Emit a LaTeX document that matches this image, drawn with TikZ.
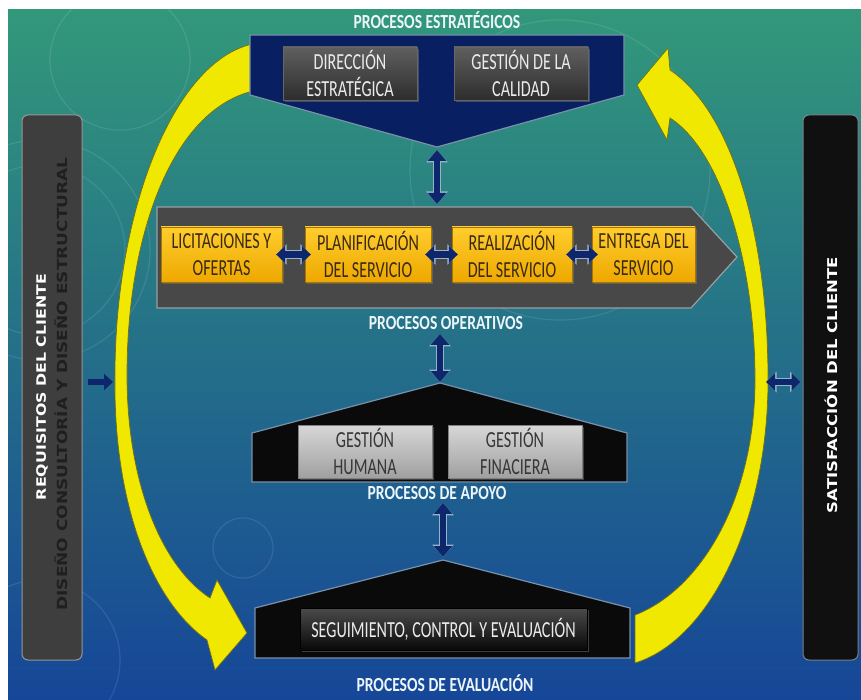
\documentclass[tikz,border=0pt]{standalone}
\usepackage{fontspec}
\usepackage{graphicx}
\setmainfont{Carlito}
\newfontfamily\cond[FakeStretch=0.78]{Carlito}
\newfontfamily\condb[FakeStretch=0.70]{Carlito}
\newfontfamily\side{DejaVu Sans}
\usetikzlibrary{arrows.meta,shadows}

\definecolor{bgtop}{RGB}{50,152,122}
\definecolor{bgmid}{RGB}{30,118,140}
\definecolor{bgbot}{RGB}{22,70,152}
\definecolor{navy}{RGB}{8,32,98}
\definecolor{arrownavy}{RGB}{14,38,108}
\definecolor{halo}{RGB}{150,180,200}
\definecolor{opgray}{RGB}{72,72,72}
\definecolor{opedge}{RGB}{150,160,165}
\definecolor{shapeedge}{RGB}{120,145,170}
\definecolor{dkT}{RGB}{95,95,95}
\definecolor{dkB}{RGB}{45,45,45}
\definecolor{gdT}{RGB}{255,205,45}
\definecolor{gdB}{RGB}{238,168,0}
\definecolor{gdtext}{RGB}{58,42,18}
\definecolor{gyT}{RGB}{215,215,215}
\definecolor{gyB}{RGB}{160,160,160}
\definecolor{gytext}{RGB}{55,55,55}
\definecolor{evT}{RGB}{75,75,75}
\definecolor{evB}{RGB}{8,8,8}
\definecolor{headc}{RGB}{235,245,250}
\definecolor{ylw}{RGB}{240,232,0}
\definecolor{ylwedge}{RGB}{110,110,30}
\definecolor{panelL}{RGB}{62,62,62}
\definecolor{panelLedge}{RGB}{150,150,150}
\definecolor{panelR}{RGB}{16,16,16}
\definecolor{panelRedge}{RGB}{120,130,140}

\tikzset{
  boxbase/.style={minimum height=53pt, inner sep=0pt, align=center,
    font=\condb\fontsize{23}{27}\selectfont,
    drop shadow={shadow xshift=2pt, shadow yshift=-2pt, opacity=.45}},
  darkbox/.style={boxbase, top color=dkT, bottom color=dkB, draw=black!60, text=white!92!black},
  goldbox/.style={boxbase, minimum height=55pt, top color=gdT, bottom color=gdB, draw=gdB!70!black, text=gdtext},
  greybox/.style={boxbase, top color=gyT, bottom color=gyB, draw=gray, text=gytext},
  evalbox/.style={boxbase, minimum height=42pt, top color=evT, bottom color=evB, draw=black, text=white!92!black},
  heading/.style={text=headc, font=\cond\bfseries\fontsize{20}{22}\selectfont, inner sep=0pt},
  shapestyle/.style={draw=shapeedge, line width=1.2pt, line join=miter},
  yarrow/.style={fill=ylw, draw=ylwedge, line width=0.7pt},
  biarrow/.style={draw=arrownavy, line width=6.5pt,
    {Triangle[width=18pt,length=11pt]}-{Triangle[width=18pt,length=11pt]},
    preaction={draw=halo, line width=8.5pt,
      {Triangle[width=21pt,length=12.5pt]}-{Triangle[width=21pt,length=12.5pt]}}},
  harrow/.style={draw=arrownavy, line width=6.5pt,
    {Triangle[width=17pt,length=9pt]}-{Triangle[width=17pt,length=9pt]},
    preaction={draw=halo, line width=8.5pt,
      {Triangle[width=20pt,length=10.5pt]}-{Triangle[width=20pt,length=10.5pt]}}},
  rarrow/.style={draw=arrownavy, line width=6.5pt, -{Triangle[width=16pt,length=9pt]}},
  leftpanel/.style={fill=panelL, draw=panelLedge, line width=1pt, rounded corners=6pt, inner sep=0pt},
  rightpanel/.style={fill=panelR, draw=panelRedge, line width=1pt, rounded corners=6pt, inner sep=0pt},
  sidetext/.style={rotate=90, inner sep=0pt}
}

\begin{document}
\begin{tikzpicture}[x=1pt,y=-1pt]
\useasboundingbox (0,0) rectangle (861,700);
\fill[white] (0,0) rectangle (861,700);
\shade[top color=bgtop, middle color=bgmid, bottom color=bgbot] (8,10) rectangle (861,700);

% faint decorative rings
\begin{scope}
\clip (8,10) rectangle (861,700);
\begin{scope}[draw=white, opacity=0.1, line width=1.2pt]
\draw (40,250) circle[radius=85];
\draw (40,250) circle[radius=110];
\draw (40,660) circle[radius=80];
\draw (243,548) circle[radius=30];
\draw (560,170) circle[radius=150];
\draw (120,60) circle[radius=70];
\end{scope}
\end{scope}

% yellow cycle arrows
\fill[yarrow] (258,43) .. controls (175,55) and (115,210) .. (115,375)
  .. controls (113,500) and (150,600) .. (207,640)
  -- (215,670) -- (247,633) -- (217,580) -- (210,598)
  .. controls (160,565) and (127,480) .. (127,375)
  .. controls (127,230) and (175,105) .. (258,90) -- cycle;
\fill[yarrow] (635,663) .. controls (710,640) and (768,520) .. (768,380)
  .. controls (768,230) and (730,110) .. (670,70)
  -- (668,48) -- (637,85) -- (667,140) -- (670,118)
  .. controls (720,150) and (755,260) .. (755,380)
  .. controls (755,500) and (700,590) .. (635,615) -- cycle;

% process shapes
\fill[shapestyle, fill=navy] (250,35) -- (624,35) -- (624,95) -- (437,147) -- (250,95) -- cycle;
\fill[shapestyle, draw=opedge, fill=opgray] (157,207) -- (691,207) -- (737,257) -- (691,308) -- (157,308) -- cycle;
\fill[shapestyle, fill=black!96] (440,383) -- (627,433) -- (627,482) -- (252,482) -- (252,433) -- cycle;
\fill[shapestyle, fill=black!96] (443,560) -- (630,608) -- (630,658) -- (255,658) -- (255,608) -- cycle;

\coordinate (sTip) at (437,147);
\coordinate (oTop) at (437,207);
\coordinate (aTop) at (440,383);
\coordinate (eTop) at (443,560);

% headings
\node[heading] (hse) at (437,20) {PROCESOS ESTRATÉGICOS};
\node[heading] (hop) at (446,323) {PROCESOS OPERATIVOS};
\node[heading] (hap) at (437,493) {PROCESOS DE APOYO};
\node[heading] (hev) at (445,683) {PROCESOS DE EVALUACIÓN};

% boxes
\node[darkbox, minimum width=134pt] (dir) at (350,73.5) {DIRECCIÓN\\ESTRATÉGICA};
\node[darkbox, minimum width=134pt] (cal) at (521,73.5) {GESTIÓN DE LA\\CALIDAD};

\node[goldbox, minimum width=121pt] (l1) at (221.5,254.5) {LICITACIONES Y\\OFERTAS};
\node[goldbox, minimum width=126pt] (l2) at (368,254.5) {PLANIFICACIÓN\\DEL SERVICIO};
\node[goldbox, minimum width=120pt] (l3) at (512,254.5) {REALIZACIÓN\\DEL SERVICIO};
\node[goldbox, minimum width=103pt] (l4) at (643.5,254.5) {ENTREGA DEL\\SERVICIO};

\node[greybox, minimum width=134pt] (hum) at (365,451.5) {GESTIÓN\\HUMANA};
\node[greybox, minimum width=134pt] (fin) at (515,451.5) {GESTIÓN\\FINACIERA};

\node[evalbox, minimum width=287pt] (seg) at (443.5,629) {SEGUIMIENTO, CONTROL Y EVALUACIÓN};

% side panels
\node[leftpanel, minimum width=60pt, minimum height=545pt] (req) at (52,387.5) {};
\node[sidetext, text=white, font=\side\bfseries\fontsize{15.8}{18}\selectfont] (reqA) at (42,387) {\scalebox{1}[0.82]{REQUISITOS DEL CLIENTE}};
\node[sidetext, text=black!88, font=\side\bfseries\fontsize{17}{19}\selectfont] (reqB) at (61,384) {\scalebox{1}[0.82]{DISEÑO CONSULTORÍA Y DISEÑO ESTRUCTURAL}};
\node[rightpanel, minimum width=55pt, minimum height=545pt] (sat) at (830.5,387.5) {};
\node[sidetext, text=white, font=\side\bfseries\fontsize{16.5}{18}\selectfont] (satT) at (831,385) {\scalebox{1}[0.82]{SATISFACCIÓN DEL CLIENTE}};

% connectors
\draw[biarrow, shorten <=3pt, shorten >=3pt] (sTip) -- (oTop);
\draw[biarrow, shorten <=4pt, shorten >=1pt] (hop.south -| aTop) -- (aTop);
\draw[biarrow, shorten <=3pt, shorten >=3pt] (hap.south -| eTop) -- (eTop);

\draw[harrow] ([xshift=-6pt]l1.east) -- ([xshift=6pt]l2.west);
\draw[harrow] ([xshift=-6pt]l2.east) -- ([xshift=6pt]l3.west);
\draw[harrow] ([xshift=-6pt]l3.east) -- ([xshift=6pt]l4.west);

\coordinate (la) at (113,382);
\path (req.east |- la) ++(5,0) coordinate (la0);
\draw[rarrow] (la0) -- (la);

\coordinate (ra) at (766,382);
\path (sat.west |- ra) ++(-2,0) coordinate (ra1);
\draw[harrow] (ra) -- (ra1);
\end{tikzpicture}
\end{document}
